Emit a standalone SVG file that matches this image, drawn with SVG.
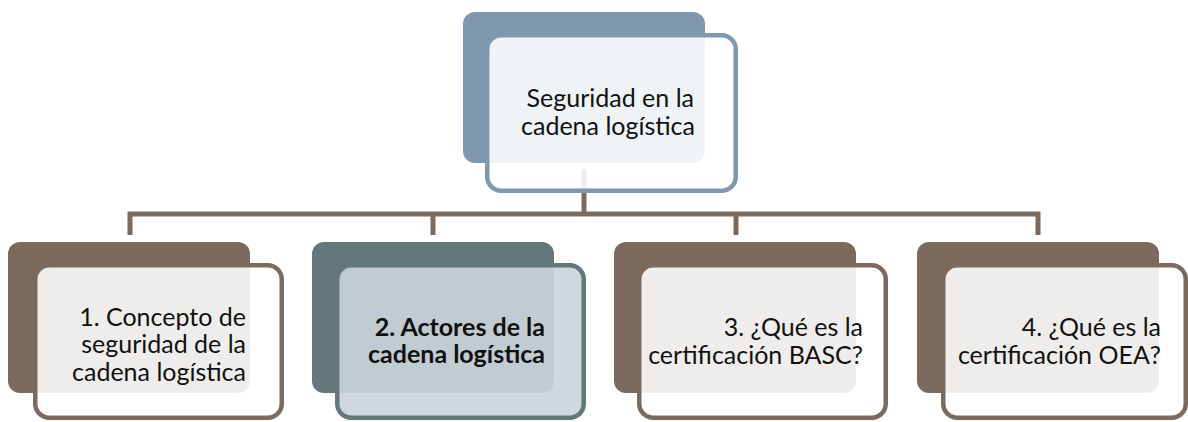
<svg xmlns="http://www.w3.org/2000/svg" width="1188" height="422" viewBox="0 0 1188 422">
<style>
.back{stroke:none}
.front{stroke-width:4.5}
.conn{fill:none;stroke:#7d6a5f;stroke-width:5;stroke-linejoin:miter}
.t{font-family:Lato,"Liberation Sans",sans-serif;font-size:25px;fill:#111;text-anchor:end}
.b{font-weight:bold}
</style>
<rect width="1188" height="422" fill="#fff"/>
<g id="connectors">
<path class="conn" d="M584,169 V214"/>
<path class="conn" d="M130,235 V214 H1038 V235"/>
<path class="conn" d="M433,214 V235"/>
<path class="conn" d="M736,214 V235"/>
</g>
<g id="top">
<rect class="back" x="463" y="12" width="242" height="151" rx="12" fill="#7f98ae"/>
<rect class="front" x="487.25" y="35.25" width="248.5" height="155.5" rx="14" fill="#fff" fill-opacity="0.88" stroke="#7f98ae"/>
<text class="t" x="694" y="107">Seguridad en la</text>
<text class="t" x="695" y="135">cadena logística</text>
</g>
<g id="n1">
<rect class="back" x="8" y="242" width="242" height="151" rx="12" fill="#7d6a5f"/>
<rect class="front" x="35.25" y="265.25" width="246.5" height="152.5" rx="14" fill="#fff" fill-opacity="0.88" stroke="#7d6a5f"/>
<text class="t" x="246" y="326">1. Concepto de</text>
<text class="t" x="246" y="353">seguridad de la</text>
<text class="t" x="246" y="381">cadena logística</text>
</g>
<g id="n2">
<rect class="back" x="312" y="242" width="242" height="151" rx="12" fill="#647779"/>
<rect class="front" x="337.25" y="265.25" width="246.5" height="152.5" rx="14" fill="#cbd4db" fill-opacity="0.9" stroke="#647779"/>
<text class="t b" x="545" y="336">2. Actores de la</text>
<text class="t b" x="545" y="363">cadena logística</text>
</g>
<g id="n3">
<rect class="back" x="614" y="242" width="242" height="151" rx="12" fill="#7d6a5f"/>
<rect class="front" x="639.25" y="265.25" width="246.5" height="152.5" rx="14" fill="#fff" fill-opacity="0.88" stroke="#7d6a5f"/>
<text class="t" x="863" y="336">3. ¿Qué es la</text>
<text class="t" x="863" y="364">certificación BASC?</text>
</g>
<g id="n4">
<rect class="back" x="917" y="242" width="242" height="151" rx="12" fill="#7d6a5f"/>
<rect class="front" x="943.25" y="265.25" width="242.5" height="152.5" rx="14" fill="#fff" fill-opacity="0.88" stroke="#7d6a5f"/>
<text class="t" x="1161" y="336">4. ¿Qué es la</text>
<text class="t" x="1161" y="364">certificación OEA?</text>
</g>
</svg>
